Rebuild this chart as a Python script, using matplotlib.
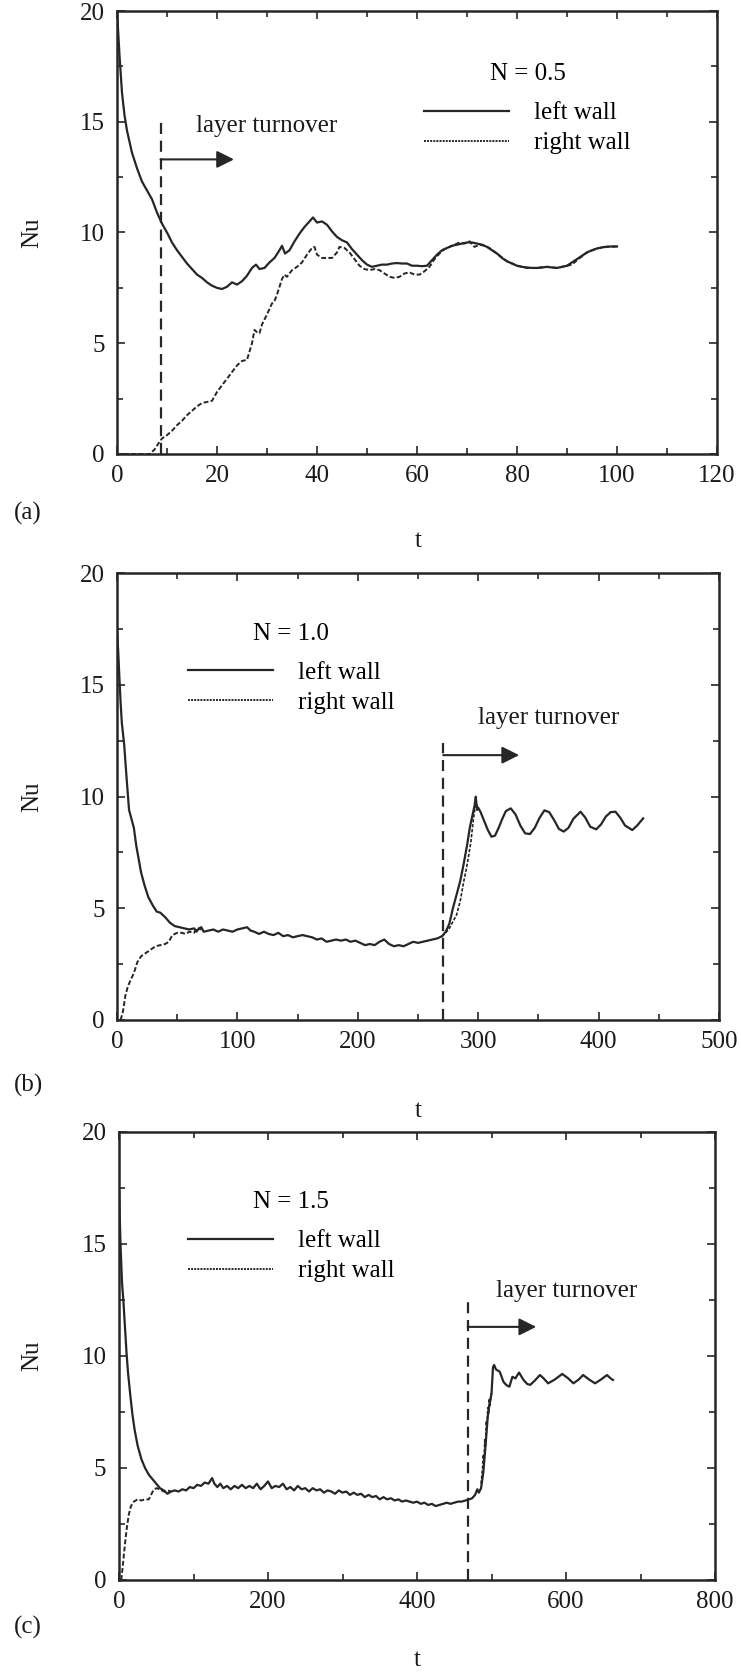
import numpy as np
import matplotlib
matplotlib.use("Agg")
import matplotlib.pyplot as plt
from matplotlib.ticker import MultipleLocator
from matplotlib.lines import Line2D

plt.rcParams['font.family'] = ['Liberation Serif', 'DejaVu Serif']
plt.rcParams['font.size'] = 18
INK = '#262626'

# ---------------- Panel (a): N = 0.5 ----------------
a_left_t = [0, 0.5, 1, 1.5, 2, 3, 4, 5, 6, 7, 8, 9, 10, 11, 12, 13, 14, 15, 16, 17, 18, 19, 20,
            21, 22, 23, 24, 25, 26, 27, 27.8, 28.5, 29.5, 30.5, 31.5, 32.5, 33, 33.6, 34.5, 35.5,
            36.5, 37.5, 38.5, 39.2, 40, 41, 42, 43, 44, 45, 46, 47, 48, 49, 50, 51, 52, 53, 54,
            55, 56, 57, 58, 59, 60, 61, 62, 63, 64, 65, 66, 67, 68, 69, 70, 71, 72, 73, 74, 75,
            76, 77, 78, 79, 80, 81, 82, 83, 84, 85, 86, 87, 88, 89, 90, 91, 92, 93, 94, 95, 96,
            97, 98, 99, 100]
a_left_nu = [20.0, 18.0, 16.3, 15.3, 14.6, 13.6, 12.9, 12.3, 11.9, 11.5, 10.9, 10.4, 10.0, 9.55,
             9.2, 8.9, 8.6, 8.35, 8.1, 7.95, 7.75, 7.6, 7.5, 7.45, 7.55, 7.75, 7.65, 7.8, 8.05,
             8.4, 8.55, 8.35, 8.4, 8.65, 8.85, 9.2, 9.4, 9.05, 9.2, 9.6, 9.95, 10.25, 10.5, 10.68,
             10.45, 10.5, 10.35, 10.05, 9.8, 9.65, 9.55, 9.25, 9.0, 8.75, 8.55, 8.45, 8.5, 8.55,
             8.55, 8.6, 8.62, 8.6, 8.6, 8.5, 8.5, 8.48, 8.5, 8.75, 9.0, 9.2, 9.3, 9.4, 9.45, 9.5,
             9.55, 9.55, 9.5, 9.45, 9.35, 9.2, 9.05, 8.85, 8.7, 8.6, 8.5, 8.45, 8.42, 8.4, 8.4,
             8.42, 8.45, 8.42, 8.4, 8.45, 8.5, 8.65, 8.8, 8.95, 9.1, 9.2, 9.28, 9.33, 9.36, 9.37,
             9.37]
a_right_t = [0, 6.5, 7.5, 8.5, 9, 10, 11, 12, 13, 14, 15, 16, 17, 18, 19, 20, 21, 22, 23, 24, 25,
             26, 27, 27.5, 28, 28.5, 29, 30, 31, 31.5, 32, 33, 33.5, 34, 35, 36, 37, 38, 39, 39.5,
             40, 41, 42, 43, 44, 44.5, 45.5, 46.5, 47.5, 48.5, 49.5, 50.5, 51.5, 52.5, 53.5, 54.5,
             55.5, 56.5, 57.5, 58.5, 59.5, 60.5, 61.5, 62.5, 63.5, 64.5, 65.5, 66.5, 67.5, 68.5,
             69.5, 70.5, 71.5, 72.5, 73.5, 74.5, 76, 78, 80, 82, 84, 86, 88, 90, 91, 92, 94, 96,
             98, 100]
a_right_nu = [0, 0, 0.2, 0.55, 0.7, 0.85, 1.05, 1.3, 1.5, 1.75, 1.95, 2.15, 2.3, 2.35, 2.4, 2.8,
              3.1, 3.4, 3.7, 4.0, 4.2, 4.25, 5.0, 5.6, 5.5, 5.45, 5.85, 6.3, 6.8, 6.9, 7.2, 7.9,
              8.1, 8.0, 8.3, 8.45, 8.65, 9.0, 9.3, 9.35, 9.0, 8.85, 8.85, 8.85, 9.1, 9.35, 9.3,
              9.1, 8.8, 8.5, 8.35, 8.3, 8.35, 8.3, 8.15, 8.0, 7.95, 8.0, 8.15, 8.2, 8.1, 8.1,
              8.25, 8.45, 8.8, 9.05, 9.25, 9.35, 9.45, 9.55, 9.5, 9.6, 9.35, 9.45, 9.4, 9.3,
              9.05, 8.7, 8.5, 8.4, 8.4, 8.45, 8.4, 8.5, 8.55, 8.75, 9.1, 9.28, 9.35, 9.37]

# ---------------- Panel (b): N = 1.0 ----------------
b_left_t = [0, 1, 2, 3, 4, 6, 8, 10, 12, 14, 16, 18, 20, 23, 26, 30, 33, 36, 40, 44, 48, 52, 56,
            60, 64, 66, 68, 70, 72, 76, 80, 84, 88, 92, 96, 100, 104, 108, 111, 114, 118, 122,
            126, 130, 134, 138, 142, 146, 150, 154, 158, 162, 166, 170, 174, 178, 182, 186, 190,
            194, 198, 202, 206, 210, 214, 218, 222, 226, 230, 234, 238, 242, 246, 250, 254, 258,
            262, 266, 270, 273, 276, 279, 282, 285, 288, 291, 293, 295, 297, 298, 299, 300, 302,
            305, 308, 311, 314, 317, 320, 323, 327, 331, 335, 339, 343, 347, 351, 355, 359, 363,
            367, 371, 375, 379, 385, 389, 393, 398, 402, 406, 410, 414, 418, 422, 428, 432, 437]
b_left_nu = [17.5, 16.5, 15.3, 14.2, 13.3, 12.3, 10.8, 9.4, 9.0, 8.6, 7.8, 7.2, 6.6, 6.0, 5.5,
             5.1, 4.85, 4.8, 4.6, 4.35, 4.2, 4.15, 4.1, 4.05, 4.1, 3.95, 4.1, 4.15, 3.95, 4.0,
             4.05, 3.95, 4.05, 4.0, 3.95, 4.05, 4.1, 4.15, 4.0, 3.95, 3.85, 3.95, 3.85, 3.8, 3.9,
             3.75, 3.8, 3.7, 3.75, 3.8, 3.75, 3.7, 3.6, 3.65, 3.5, 3.55, 3.6, 3.55, 3.6, 3.5,
             3.55, 3.45, 3.35, 3.4, 3.35, 3.5, 3.6, 3.4, 3.3, 3.35, 3.3, 3.4, 3.5, 3.45, 3.5,
             3.55, 3.6, 3.65, 3.75, 3.95, 4.3, 5.0, 5.6, 6.2, 7.0, 7.9, 8.6, 9.1, 9.6, 9.99, 9.4,
             9.5, 9.3, 8.9, 8.5, 8.2, 8.25, 8.6, 9.0, 9.35, 9.47, 9.2, 8.7, 8.35, 8.32, 8.6,
             9.05, 9.38, 9.3, 8.95, 8.55, 8.43, 8.6, 9.0, 9.32, 9.05, 8.65, 8.53, 8.75, 9.1,
             9.3, 9.32, 9.05, 8.7, 8.5, 8.7, 9.02]
b_right_t = [3, 5, 7, 9, 11, 14, 17, 20, 24, 28, 32, 36, 40, 43, 46, 50, 54, 57, 60, 64, 66, 70]
b_right_nu = [0.0, 0.4, 1.1, 1.5, 1.75, 2.1, 2.6, 2.85, 3.0, 3.15, 3.3, 3.35, 3.4, 3.5, 3.8, 3.9,
              3.9, 3.85, 3.95, 3.9, 4.1, 4.05]
b_right_rise_t = [270, 273, 276, 279, 282, 285, 288, 291, 294, 296, 298, 300]
b_right_rise_nu = [3.75, 3.9, 4.1, 4.4, 4.7, 5.3, 6.2, 7.0, 8.0, 9.0, 9.7, 9.5]

# ---------------- Panel (c): N = 1.5 ----------------
c_left_t = [0, 2, 4, 6, 8, 10, 12, 15, 18, 21, 25, 30, 35, 40, 45, 50, 55, 60, 65, 70, 75, 80,
            85, 90, 95, 100, 105, 110, 115, 120, 125, 128, 132, 136, 140, 145, 150, 155, 160,
            165, 170, 175, 180, 185, 190, 195, 200, 205, 210, 215, 220, 225, 230, 235, 240, 245,
            250, 255, 260, 265, 270, 275, 280, 285, 290, 295, 300, 305, 310, 315, 320, 325, 330,
            335, 340, 345, 350, 355, 360, 365, 370, 375, 380, 385, 390, 395, 400, 405, 410, 415,
            420, 425, 430, 435, 440, 445, 450, 455, 460, 465, 470, 474, 478, 481, 483, 486, 489,
            492, 495, 498, 500, 502, 503.5, 506, 511, 516, 520, 524, 528, 532, 537, 543, 548,
            552, 558, 565, 570, 576, 585, 595, 603, 610, 617, 623, 631, 639, 647, 655, 660, 663]
c_left_nu = [17.5, 15.0, 13.3, 12.4, 11.3, 10.2, 9.3, 8.3, 7.4, 6.7, 6.0, 5.4, 5.0, 4.7, 4.5,
             4.3, 4.1, 4.0, 3.85, 3.95, 4.0, 3.95, 4.05, 4.0, 4.15, 4.1, 4.25, 4.2, 4.35, 4.3,
             4.55, 4.3, 4.15, 4.3, 4.1, 4.2, 4.05, 4.2, 4.1, 4.25, 4.1, 4.2, 4.1, 4.3, 4.05, 4.2,
             4.4, 4.1, 4.2, 4.15, 4.3, 4.05, 4.15, 4.0, 4.2, 4.05, 4.1, 3.95, 4.1, 4.0, 4.05,
             3.9, 4.0, 3.95, 3.85, 4.0, 3.9, 3.95, 3.8, 3.9, 3.8, 3.85, 3.7, 3.8, 3.7, 3.75, 3.6,
             3.7, 3.6, 3.65, 3.55, 3.6, 3.5, 3.55, 3.5, 3.45, 3.5, 3.4, 3.45, 3.35, 3.4, 3.3,
             3.35, 3.4, 3.45, 3.4, 3.45, 3.5, 3.5, 3.55, 3.6, 3.65, 3.8, 4.05, 3.9, 4.1, 4.8,
             6.0, 7.3, 8.0, 8.3, 9.5, 9.6, 9.4, 9.3, 8.85, 8.7, 8.63, 9.07, 9.0, 9.26, 8.93,
             8.75, 8.71, 8.9, 9.15, 9.0, 8.78, 8.95, 9.2, 9.0, 8.78, 8.95, 9.15, 8.95, 8.78,
             8.95, 9.15, 9.0, 8.93]
c_right_t = [3, 5, 8, 10, 13, 16, 20, 25, 30, 35, 40, 43, 46, 50, 55, 60, 65, 70]
c_right_nu = [0.0, 0.6, 1.6, 2.2, 2.9, 3.3, 3.5, 3.6, 3.55, 3.6, 3.6, 3.8, 4.0, 4.1, 4.05, 3.95,
              4.0, 3.95]
c_right_rise_t = [486, 488, 489, 490, 491, 492, 493, 494, 495, 496, 497, 498, 500]
c_right_rise_nu = [4.3, 5.0, 5.6, 5.3, 6.3, 6.0, 7.1, 6.8, 7.7, 7.4, 8.1, 7.8, 8.4]

# panel settings (text content and limits)
panels = [
    dict(lt=a_left_t, ln=a_left_nu, rt=a_right_t, rn=a_right_nu, xmax=120, xmaj=20, xmin=10,
         label='(a)', title='N = 0.5', turn_t=8.7, turn_top=15.1, arr_y=13.3, arr_end=23.4,
         txt_x=15.7, txt_y=14.8),
    dict(lt=b_left_t, ln=b_left_nu, rt=b_right_t, rn=b_right_nu, xmax=500, xmaj=100, xmin=50,
         label='(b)', title='N = 1.0', turn_t=271, turn_top=12.4, arr_y=11.85, arr_end=334,
         txt_x=300, txt_y=13.5, rise_t=b_right_rise_t, rise_n=b_right_rise_nu),
    dict(lt=c_left_t, ln=c_left_nu, rt=c_right_t, rn=c_right_nu, xmax=800, xmaj=200, xmin=100,
         label='(c)', title='N = 1.5', turn_t=468, turn_top=12.5, arr_y=11.3, arr_end=560,
         txt_x=506, txt_y=12.9, rise_t=c_right_rise_t, rise_n=c_right_rise_nu),
]

W, H = 741, 1673
fig = plt.figure(figsize=(W / 100, H / 100), dpi=100)

# axes rectangles in pixels: left, right, top, bottom
rects = [(117, 717, 11, 454), (117, 719, 573, 1020), (119, 715, 1132, 1580)]
legend_anchor = [(0.512, 0.882), (0.118, 0.888), (0.115, 0.868)]
label_pos = [(14, 513, 418, 541), (14, 1085, 418, 1111), (14, 1627, 417, 1660)]

for p, (l, r, t, b), anc, lp in zip(panels, rects, legend_anchor, label_pos):
    ax = fig.add_axes([l / W, 1 - b / H, (r - l) / W, (b - t) / H])
    ax.set_xlim(0, p['xmax'])
    ax.set_ylim(0, 20)

    # left wall (solid)
    ax.plot(p['lt'], p['ln'], color=INK, lw=1.6, solid_joinstyle='round')
    # right wall (fine dashed)
    ax.plot(p['rt'], p['rn'], color=INK, lw=1.4, ls=(0, (2.5, 1.2)))
    if 'rise_t' in p:
        ax.plot(p['rise_t'], p['rise_n'], color=INK, lw=1.2, ls=(0, (2, 1)))

    # layer turnover marker
    ax.plot([p['turn_t'], p['turn_t']], [0, p['turn_top']], color=INK, lw=1.6,
            ls=(0, (5, 3)))
    ax.annotate('', xy=(p['arr_end'], p['arr_y']), xytext=(p['turn_t'], p['arr_y']),
                arrowprops=dict(arrowstyle='-|>', mutation_scale=26, lw=1.5, color=INK,
                                shrinkA=0, shrinkB=0))
    ax.text(p['txt_x'], p['txt_y'], 'layer turnover', ha='left', va='center',
            fontsize=18, color='#1a1a1a')

    # legend
    handles = [Line2D([], [], color=INK, lw=1.6),
               Line2D([], [], color=INK, lw=1.4, ls=(0, (1, 0.6)))]
    leg = ax.legend(handles, ['left wall', 'right wall'], title=p['title'],
                    loc='upper left', bbox_to_anchor=anc, frameon=False,
                    handlelength=3.4, handletextpad=1.0, labelspacing=0.3,
                    borderpad=0, borderaxespad=0, fontsize=18, title_fontsize=18)
    leg._legend_box.sep = 12

    # axes styling
    for s in ax.spines.values():
        s.set_linewidth(1.8)
        s.set_color(INK)
    ax.xaxis.set_major_locator(MultipleLocator(p['xmaj']))
    ax.xaxis.set_minor_locator(MultipleLocator(p['xmin']))
    ax.yaxis.set_major_locator(MultipleLocator(5))
    ax.yaxis.set_minor_locator(MultipleLocator(2.5))
    ax.tick_params(which='both', direction='in', top=True, right=True, color=INK,
                   width=1.2, labelsize=18, labelcolor='#1a1a1a')
    ax.tick_params(which='major', length=6)
    ax.tick_params(which='minor', length=4)
    ax.tick_params(axis='y', pad=9)
    ax.tick_params(axis='x', pad=8)
    ax.set_ylabel('Nu', fontsize=18, color='#1a1a1a')
    ax.yaxis.set_label_coords(-(l - 43) / (r - l), 0.5)

    fig.text(lp[0] / W, 1 - lp[1] / H, p['label'], ha='left', va='center', fontsize=18,
             color='#1a1a1a')
    fig.text(lp[2] / W, 1 - lp[3] / H, 't', ha='center', va='center', fontsize=18,
             color='#1a1a1a')

fig.savefig('out.png', dpi=100, facecolor='white')
